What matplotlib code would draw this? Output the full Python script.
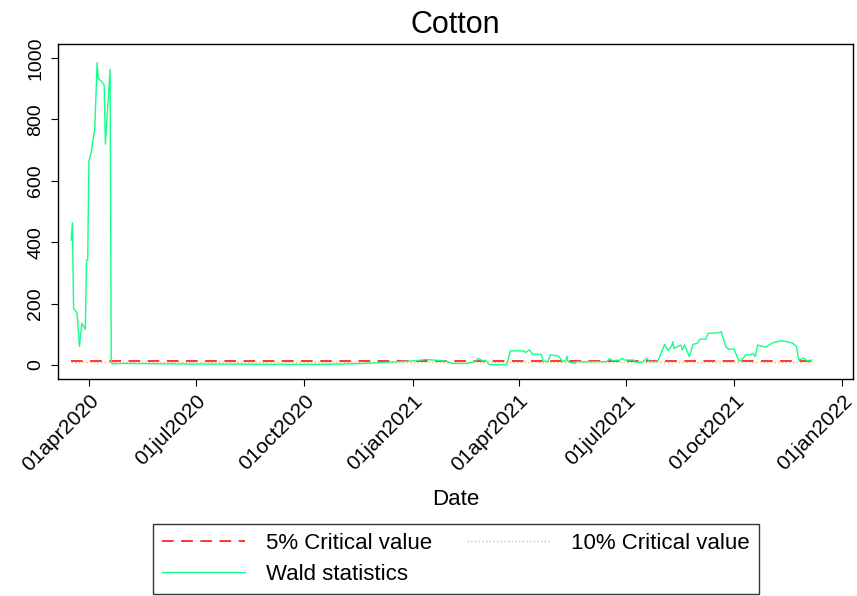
""" Cotton Wald statistics vs critical values
"""

import numpy as np
import pandas as pd
import matplotlib
matplotlib.use('Agg')
import matplotlib.pyplot as plt

plt.rcParams['font.family'] = ['Liberation Sans', 'DejaVu Sans']

# Wald statistics
wald_dates = [
    '2020-03-17', '2020-03-18', '2020-03-19', '2020-03-22', '2020-03-24',
    '2020-03-26', '2020-03-29', '2020-03-30', '2020-03-31', '2020-04-01',
    '2020-04-03', '2020-04-06', '2020-04-08', '2020-04-09', '2020-04-12',
    '2020-04-14', '2020-04-15', '2020-04-19', '2020-04-20', '2020-04-21',
    '2020-05-01', '2020-06-01', '2020-07-01', '2020-08-01', '2020-09-01',
    '2020-10-01', '2020-10-15', '2020-11-01', '2020-11-20', '2020-12-01',
    '2020-12-10', '2020-12-21', '2021-01-04', '2021-01-12', '2021-01-29',
    '2021-02-04', '2021-02-16', '2021-02-23', '2021-02-26', '2021-03-01',
    '2021-03-04', '2021-03-07', '2021-03-10', '2021-03-22', '2021-03-25',
    '2021-04-05', '2021-04-07', '2021-04-10', '2021-04-13', '2021-04-20',
    '2021-04-22', '2021-04-26', '2021-04-28', '2021-05-05', '2021-05-08',
    '2021-05-11', '2021-05-12', '2021-05-13', '2021-05-19', '2021-05-20',
    '2021-06-15', '2021-06-17', '2021-06-20', '2021-06-26', '2021-06-28',
    '2021-06-30', '2021-07-08', '2021-07-10', '2021-07-15', '2021-07-19',
    '2021-07-21', '2021-07-28', '2021-08-03', '2021-08-06', '2021-08-09',
    '2021-08-10', '2021-08-11', '2021-08-14', '2021-08-17', '2021-08-18',
    '2021-08-20', '2021-08-24', '2021-08-27', '2021-08-31', '2021-09-02',
    '2021-09-07', '2021-09-09', '2021-09-18', '2021-09-20', '2021-09-24',
    '2021-09-26', '2021-10-01', '2021-10-05', '2021-10-07', '2021-10-11',
    '2021-10-15', '2021-10-17', '2021-10-19', '2021-10-21', '2021-10-28',
    '2021-11-03', '2021-11-10', '2021-11-16', '2021-11-20', '2021-11-23',
    '2021-11-25', '2021-11-29', '2021-12-02', '2021-12-06',
]
wald_values = [
    407, 464, 185, 168, 60,
    136, 116, 342, 342, 662,
    695, 771, 985, 934, 923,
    912, 720, 963, 6, 4,
    5, 4, 3, 3, 2,
    2, 2, 3, 5, 7,
    9, 11, 14, 18, 13,
    5, 5, 11, 22, 14,
    15, 2, 1, 1, 46,
    46, 41, 49, 35, 35,
    13, 11, 33, 29, 13,
    13, 29, 11, 5, 11,
    11, 21, 14, 16, 22,
    16, 16, 9, 9, 22,
    11, 11, 67, 47, 62,
    76, 54, 60, 65, 49,
    65, 27, 67, 71, 84,
    84, 103, 105, 109, 60,
    52, 52, 14, 14, 33,
    33, 38, 27, 65, 58,
    73, 79, 75, 71, 60,
    16, 22, 14, 16,
]

# Critical values (constant over the sample)
cv_dates = ['2020-03-17', '2021-12-06']
cv5_values = [12, 12]
cv10_values = [10, 10]

tick_dates = ['2020-04-01', '2020-07-01', '2020-10-01', '2021-01-01',
              '2021-04-01', '2021-07-01', '2021-10-01', '2022-01-01']
tick_labels = ['01apr2020', '01jul2020', '01oct2020', '01jan2021',
               '01apr2021', '01jul2021', '01oct2021', '01jan2022']

wald_dates = pd.to_datetime(wald_dates)
cv_dates = pd.to_datetime(cv_dates)

fig = plt.figure(figsize=(8.57, 5.96), dpi=100)
ax = fig.add_axes([0.068, 0.3636, 0.9273, 0.5626])

l5, = ax.plot(cv_dates, cv5_values, color='#ff1010', lw=1.2, dashes=(7, 4.5),
              label='5% Critical value')
l10, = ax.plot(cv_dates, cv10_values, color='#f4b07a', lw=1.0, ls=':',
               label='10% Critical value')
lw_, = ax.plot(wald_dates, wald_values, color='#12ff88', lw=1.0,
               label='Wald statistics')

ax.set_xlim(pd.Timestamp('2020-03-06'), pd.Timestamp('2022-01-10'))
ax.set_ylim(-46.6, 1046)
ax.set_yticks([0, 200, 400, 600, 800, 1000])
ax.tick_params(axis='y', labelsize=14, labelrotation=90, length=5, pad=5)
for lab in ax.get_yticklabels():
    lab.set_va('center')
ax.set_xticks(pd.to_datetime(tick_dates))
ax.set_xticklabels(tick_labels, rotation=45, ha='right',
                   rotation_mode='anchor', fontsize=15)
ax.tick_params(axis='x', length=5)
for s in ax.spines.values():
    s.set_linewidth(1.0)

ax.set_title('Cotton', fontsize=22, pad=8)
ax.set_xlabel('Date', fontsize=16, labelpad=10)

# column-wise fill: 5% / Wald in col 1, 10% in col 2
leg = fig.legend([l5, lw_, l10],
                 ['5% Critical value', 'Wald statistics', '10% Critical value'],
                 loc='lower center', bbox_to_anchor=(0.532, 0.003), ncol=2,
                 fontsize=16, frameon=True, fancybox=False, edgecolor='black',
                 handlelength=3.7, handletextpad=0.95, columnspacing=1.6,
                 borderpad=0.42, labelspacing=0.45, borderaxespad=0)
leg.get_frame().set_linewidth(1.0)

fig.savefig('out.png', dpi=100)
